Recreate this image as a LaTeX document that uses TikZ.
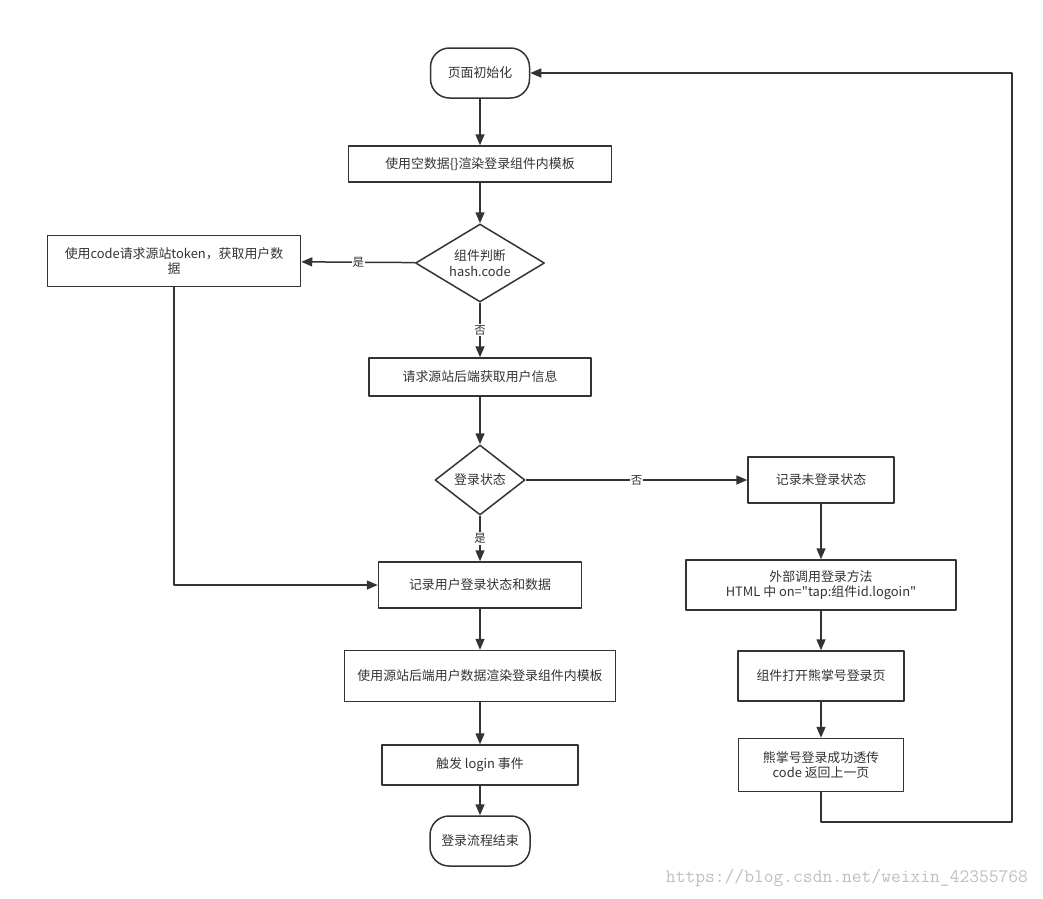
\documentclass[tikz,border=0pt]{standalone}
\usepackage{fontspec}
\setmainfont[Mapping=]{Noto Sans CJK SC}
\usetikzlibrary{shapes.geometric,arrows.meta}
\begin{document}
\begin{tikzpicture}[x=1pt,y=-1pt,font=\fontsize{12.9}{15.5}\selectfont,line join=round,
	>={Triangle[length=11pt,width=9pt]},
	flow/.style={draw=black!80,line width=1.5pt},
	proc/.style={flow,rectangle,align=center,text=black!80,inner sep=0pt},
	term/.style={proc,rounded corners=19pt,minimum width=99pt,minimum height=50pt},
	dec/.style={flow,diamond,align=center,text=black!80,inner sep=0pt},
	lbl/.style={fill=white,inner sep=1pt,text=black!80,font=\fontsize{11.5}{13}\selectfont}]
	\useasboundingbox (0,0) rectangle (1043,898);
	%left column
	\node[term] (start) at (480,73) {页面初始化};
	\node[proc,minimum width=263pt,minimum height=36pt] (tplA) at (480,164) {使用空数据\{\}渲染登录组件内模板};
	\node[dec,minimum width=129pt,minimum height=78pt,aspect=1.65] (hash) at (480,263) {组件判断\\hash.code};
	\node[proc,minimum width=253pt,minimum height=51pt] (token) at (174,261) {使用code请求源站token，获取用户数\\据};
	\node[proc,minimum width=222pt,minimum height=38pt] (req) at (480,377) {请求源站后端获取用户信息};
	\node[dec,minimum width=90pt,minimum height=70pt,aspect=1.3] (state) at (480,480) {登录状态};
	\node[proc,minimum width=203pt,minimum height=46pt] (rec) at (480,585) {记录用户登录状态和数据};
	\node[proc,minimum width=271pt,minimum height=51pt] (tplB) at (480,676) {使用源站后端用户数据渲染登录组件内模板};
	\node[proc,minimum width=196pt,minimum height=40pt] (fire) at (480,765) {触发 login 事件};
	\node[term,minimum width=100pt] (stop) at (480,841) {登录流程结束};
	%right column
	\node[proc,minimum width=146pt,minimum height=46pt] (nolog) at (821,480) {记录未登录状态};
	\node[proc,minimum width=270pt,minimum height=50pt] (ext) at (821,585) {外部调用登录方法\\HTML 中 on=\symbol{34}tap:组件id.logoin\symbol{34}};
	\node[proc,minimum width=166pt,minimum height=50pt] (open) at (821,676) {组件打开熊掌号登录页};
	\node[proc,minimum width=165pt,minimum height=53pt] (pass) at (821,765) {熊掌号登录成功透传\\code 返回上一页};
	\coordinate (loopR) at (1012,822);
	%connectors
	\draw[flow,->] (start) -- (tplA);
	\draw[flow,->] (tplA) -- (hash);
	\draw[flow,->] (hash) -- node[lbl]{是} (token);
	\draw[flow,->] (hash) -- node[lbl]{否} (req);
	\draw[flow,->] (req) -- (state);
	\draw[flow,->] (state) -- node[lbl]{否} (nolog);
	\draw[flow,->] (state) -- node[lbl]{是} (rec);
	\draw[flow,->] (token.south) |- (rec.west);
	\draw[flow,->] (rec) -- (tplB);
	\draw[flow,->] (tplB) -- (fire);
	\draw[flow,->] (fire) -- (stop);
	\draw[flow,->] (nolog) -- (ext);
	\draw[flow,->] (ext) -- (open);
	\draw[flow,->] (open) -- (pass);
	\draw[flow,->] (pass.south) |- (loopR) |- (start.east);
	\node[text=black!25,font=\ttfamily\fontsize{19}{22}\selectfont] (mark) at (847,878) {https://blog.csdn.net/weixin\_42355768};
\end{tikzpicture}
\end{document}
